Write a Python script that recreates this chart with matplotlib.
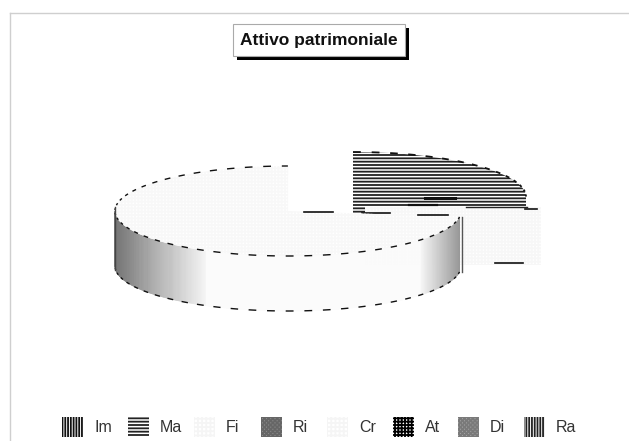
import numpy as np
import matplotlib

matplotlib.use("Agg")
import matplotlib.pyplot as plt
from matplotlib.patches import Polygon, Rectangle

plt.rcParams["font.family"] = ["Liberation Sans", "DejaVu Sans"]
plt.rcParams["hatch.linewidth"] = 1.3

TITLE = "Attivo patrimoniale"
LABELS = ["Im", "Ma", "Fi", "Ri", "Cr", "At", "Di", "Ra"]
VALUES = [0.0, 25.0, 2.1, 0.0, 72.9, 0.0, 0.0, 0.0]
LEGEND_X = [62, 128, 194, 261, 327, 393, 458, 524]

# legend swatch looks: facecolor, hatch, hatch colour
SWATCH = {
    "Im": ("white", "||||||", "#111111"),
    "Ma": ("white", "-----", "#222222"),
    "Fi": ("white", "++++", "#f5f5f5"),
    "Ri": ("#929292", "xxxxxxxx", "#666666"),
    "Cr": ("white", "++++", "#f5f5f5"),
    "At": ("white", "+++++", "#000000"),
    "Di": ("#a8a8a8", "xxxxxxxx", "#7a7a7a"),
    "Ra": ("white", "||||||", "#222222"),
}

RX, RY, DEPTH = 173, 45, 55
APEX = {"Ma": (353, 197), "Fi": (368, 207), "Cr": (288, 211)}


def arc(label, p0, p1, drop=0, step=0.5):
    """Ellipse points for angles p0..p1 (deg, clockwise from the top)."""
    cx, cy = APEX[label]
    p = np.radians(np.arange(p0, p1 + step / 2, step))
    return np.c_[cx + RX * np.sin(p), cy - RY * np.cos(p) + drop]


def dashed_rim(ax, label, p0, p1, drop=0, on=2.6, off=3.6, lw=1.0, z=7):
    for a in np.arange(p0, p1, on + off):
        pts = arc(label, a, min(a + on, p1), drop, step=0.2)
        ax.plot(pts[:, 0], pts[:, 1], color="#111111", lw=lw,
                solid_capstyle="butt", zorder=z)


def wall_gray(x):
    if x < 205:
        return 0.46 + 0.5 * (x - 115) / 90
    if x > 420:
        return 0.97 - 0.40 * (x - 420) / 42
    return 0.985


fig = plt.figure(figsize=(6.29, 4.41), dpi=100)
ax = fig.add_axes([0, 0, 1, 1])
ax.set_xlim(0, 629)
ax.set_ylim(441, 0)
ax.axis("off")

# page edge
ax.plot([9.5, 629], [12.5, 12.5], color="#cfcfcf", lw=1)
ax.plot([9.5, 9.5], [12.5, 441], color="#cfcfcf", lw=1)

# slice angles from the values
edges = np.cumsum([0.0] + VALUES) * 3.6
ang = {lab: (edges[i], edges[i + 1]) for i, lab in enumerate(LABELS)}

# Ma: striped top, cut off by the neighbouring slice
p0, p1 = ang["Ma"]
top = arc("Ma", p0, p1)
ma = np.vstack([[353, 213], top, [top[-1, 0], 207], [365, 207], [365, 213]])
ax.add_patch(Polygon(ma, closed=True, facecolor="white", edgecolor="#222222",
                     hatch="-----", lw=0, zorder=2))
dashed_rim(ax, "Ma", p0, p1, lw=1.3, z=3)
ax.plot([425, 455], [198, 198], color="#111111", lw=2.2, zorder=3)

# Fi: pale slice pulled out to the right, with its wall
p0, p1 = ang["Fi"]
rim = arc("Fi", p0, p1)
fi = [[365, 207], [rim[0, 0], 207], [rim[0, 0], 265], [365, 265]]
ax.add_patch(Polygon(fi, closed=True, facecolor="white", edgecolor="#f7f7f7",
                     hatch="+++++", lw=0, zorder=3))
ax.plot([466, 527], [207, 207], color="#222222", lw=1.0, zorder=4)
ax.plot([525, 537], [208.5, 208.5], color="#111111", lw=1.2, zorder=4)
ax.plot([495, 523], [263, 263], color="#111111", lw=1.2, zorder=4)
ax.plot([409, 437], [205, 205], color="#111111", lw=1.6, zorder=4)
ax.plot([362, 390], [213, 213], color="#111111", lw=1.2, zorder=4)

# Cr: the big slice, top and wall
p0, p1 = ang["Cr"]
rim = arc("Cr", p0, p1)
cr = np.vstack([[288, 211], rim])
front = arc("Cr", p0, 270)
for a, b in zip(front[:-1], front[1:]):
    g = wall_gray((a[0] + b[0]) / 2)
    quad = [a, b, b + [0, DEPTH], a + [0, DEPTH]]
    ax.add_patch(Polygon(quad, closed=True, facecolor=str(g), edgecolor=str(g), lw=0.4, zorder=5))
ax.add_patch(Polygon(cr, closed=True, facecolor="white", edgecolor="#f8f8f8",
                     hatch="+++++", lw=0, zorder=6))
dashed_rim(ax, "Cr", p0, p1)
dashed_rim(ax, "Cr", p0, 270, DEPTH)
ax.plot([115, 115], [207, 270], color="#444444", lw=1.0, zorder=7)
ax.plot([462, 462], [217, 272], color="#555555", lw=1.0, zorder=7)
ax.plot([304, 333], [212, 212], color="#111111", lw=1.2, zorder=7)
ax.plot([418, 448], [215, 215], color="#111111", lw=1.2, zorder=7)

# title box with drop shadow
ax.add_patch(Rectangle((237, 28), 172, 32, facecolor="black", edgecolor="none", zorder=8))
ax.add_patch(Rectangle((233, 24), 172, 32, facecolor="white", edgecolor="#aaaaaa", lw=0.8, zorder=9))
ax.text(319, 40.5, TITLE, ha="center", va="center", fontsize=12.5,
        fontweight="bold", color="#111111", zorder=10)

# legend row
for x, lab in zip(LEGEND_X, LABELS):
    fc, hatch, hc = SWATCH[lab]
    ax.add_patch(Rectangle((x, 417), 21, 20, facecolor=fc, edgecolor=hc,
                           hatch=hatch, lw=0, zorder=2))
    ax.text(x + 32, 427.5, lab, ha="left", va="center", fontsize=11.5, color="#333333")

fig.savefig("out.png", dpi=100, facecolor="white")
plt.close(fig)
